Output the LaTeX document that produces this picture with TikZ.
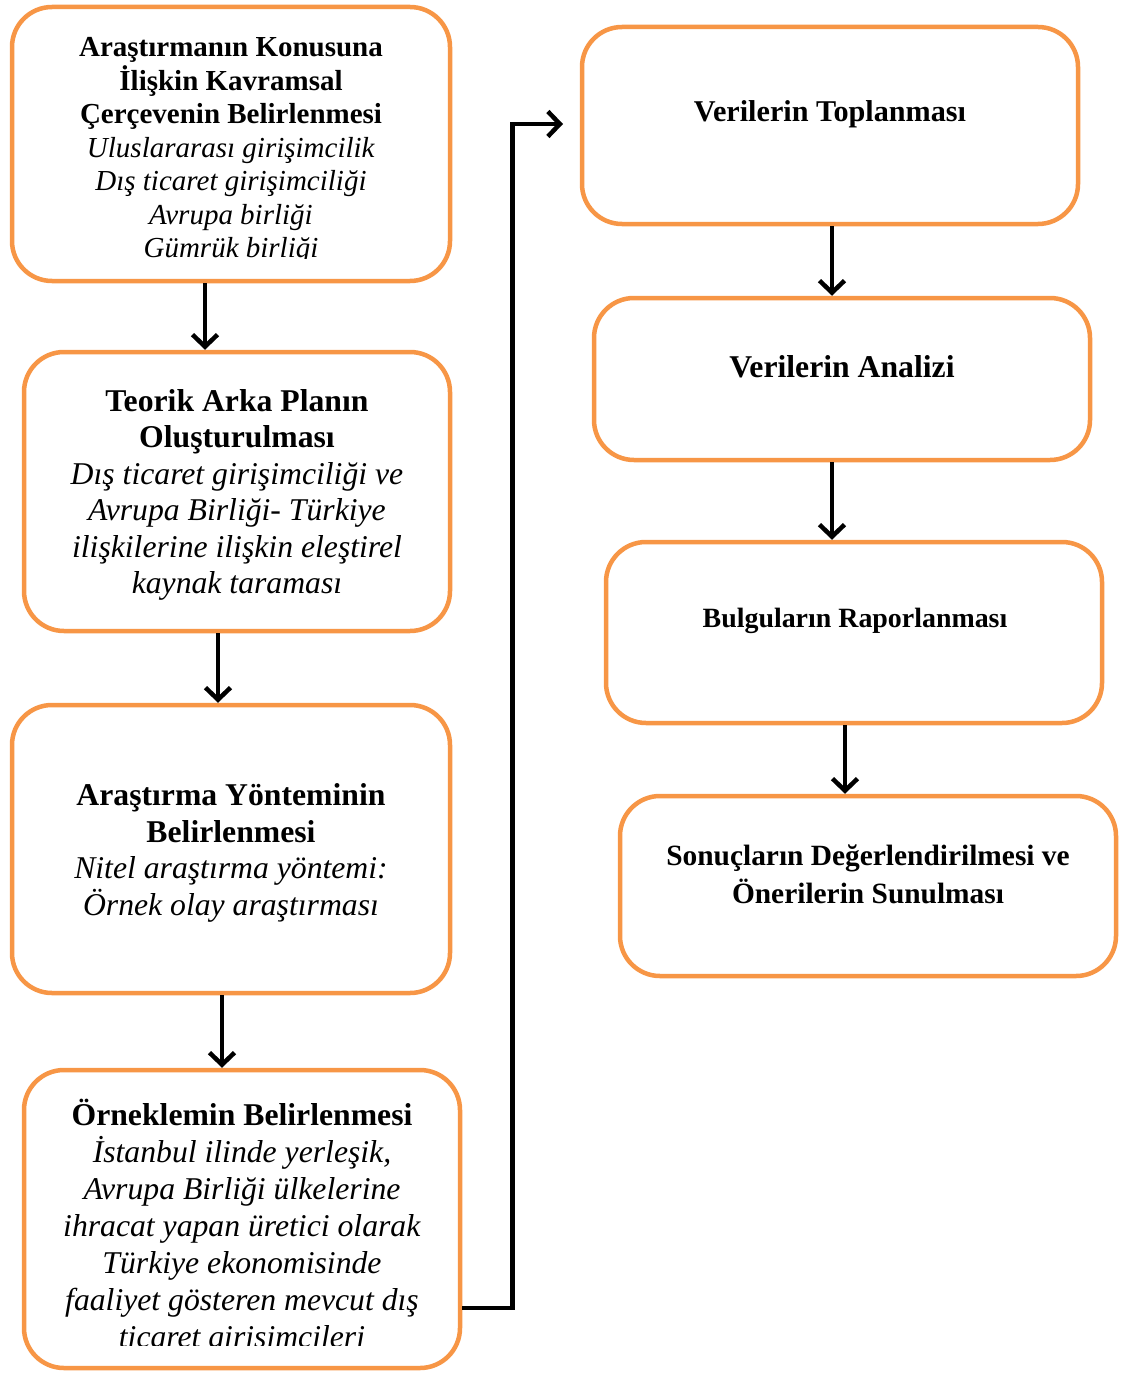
\documentclass[tikz,border=0pt]{standalone}
\usepackage{fontspec}
\setmainfont{Liberation Serif}
\usetikzlibrary{arrows.meta, positioning, calc}
\definecolor{boxorange}{RGB}{247,150,70}

\begin{document}
\begin{tikzpicture}[x=1pt, y=-1pt,
  stepbox/.style={draw=boxorange, line width=4.5pt, rounded corners=40pt,
                  fill=white, inner sep=0pt},
  steptext/.style={align=center, inner sep=0pt},
  flow/.style={line width=4.5pt, -{Straight Barb[length=12pt, width=25pt]}}]
  \useasboundingbox (0,0) rectangle (1123,1375);

  % left column
  \node[stepbox, minimum width=438, minimum height=274] (boxA) at (231,144) {};
  \node[stepbox, minimum width=426, minimum height=279] (boxB) at (237,491.5) {};
  \node[stepbox, minimum width=438, minimum height=288] (boxC) at (231,849) {};
  \node[stepbox, minimum width=436, minimum height=298] (boxD) at (242,1219) {};

  % right column
  \node[stepbox, minimum width=496, minimum height=197] (boxE) at (830,125.5) {};
  \node[stepbox, minimum width=496, minimum height=162] (boxF) at (842,379) {};
  \node[stepbox, minimum width=496, minimum height=181] (boxG) at (854,632.5) {};
  \node[stepbox, minimum width=496, minimum height=180] (boxH) at (868,886) {};

  % texts (last lines cut as in the text boxes)
  \begin{scope}
    \clip (0,0) rectangle (1123,258);
    \node[steptext, font=\fontsize{29}{33.5}\selectfont] (txtA) at (231,151)
      {\textbf{Araştırmanın Konusuna}\\\textbf{İlişkin Kavramsal}\\
       \textbf{Çerçevenin Belirlenmesi}\\\textit{Uluslararası girişimcilik}\\
       \textit{Dış ticaret girişimciliği}\\\textit{Avrupa birliği}\\
       \textit{Gümrük birliği}};
  \end{scope}
  \node[steptext, font=\fontsize{31.7}{36.5}\selectfont] (txtB) at (237,495)
    {\textbf{Teorik Arka Planın}\\\textbf{Oluşturulması}\\
     \textit{Dış ticaret girişimciliği ve}\\\textit{Avrupa Birliği- Türkiye}\\
     \textit{ilişkilerine ilişkin eleştirel}\\\textit{kaynak taraması}};
  \node[steptext, font=\fontsize{31.7}{36.5}\selectfont] (txtC) at (231,853)
    {\textbf{Araştırma Yönteminin}\\\textbf{Belirlenmesi}\\
     \textit{Nitel araştırma yöntemi:}\\\textit{Örnek olay araştırması}};
  \begin{scope}
    \clip (0,0) rectangle (1123,1345);
    \node[steptext, font=\fontsize{31.7}{37}\selectfont] (txtD) at (242,1227)
      {\textbf{Örneklemin Belirlenmesi}\\\textit{İstanbul ilinde yerleşik,}\\
       \textit{Avrupa Birliği ülkelerine}\\\textit{ihracat yapan üretici olarak}\\
       \textit{Türkiye ekonomisinde}\\\textit{faaliyet gösteren mevcut dış}\\
       \textit{ticaret girişimcileri}};
  \end{scope}
  \node[steptext, font=\bfseries\fontsize{30.2}{36}\selectfont] (txtE) at (830,114)
    {Verilerin Toplanması};
  \node[steptext, font=\bfseries\fontsize{31.7}{36}\selectfont] (txtF) at (842,367)
    {Verilerin Analizi};
  \node[steptext, font=\bfseries\fontsize{27.9}{34}\selectfont] (txtG) at (855,621)
    {Bulguların Raporlanması};
  \node[steptext, font=\bfseries\fontsize{29.4}{38}\selectfont] (txtH) at (868,874)
    {Sonuçların Değerlendirilmesi ve\\Önerilerin Sunulması};

  % connectors
  \coordinate (tipE) at (563,124);
  \draw[flow] ([xshift=-26pt]boxA.south) -- ([xshift=-26pt]boxA.south |- boxB.north);
  \draw[flow] ([xshift=-19pt]boxB.south) -- ([xshift=-19pt]boxB.south |- boxC.north);
  \draw[flow] ([xshift=-9pt]boxC.south) -- ([xshift=-9pt]boxC.south |- boxD.north);
  \draw[flow] ([yshift=-89pt]boxD.east) -- ++(50,0) |- (tipE);
  \draw[flow] ([xshift=2pt]boxE.south) -- ([xshift=2pt]boxE.south |- boxF.north);
  \draw[flow] ([xshift=-10pt]boxF.south) -- ([xshift=-10pt]boxF.south |- boxG.north);
  \draw[flow] ([xshift=-9pt]boxG.south) -- ([xshift=-9pt]boxG.south |- boxH.north);
\end{tikzpicture}
\end{document}
